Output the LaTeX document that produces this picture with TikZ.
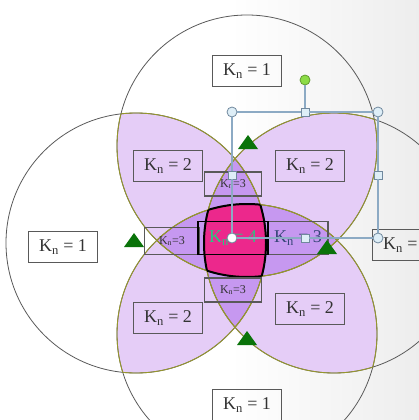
\documentclass[tikz,border=0pt]{standalone}
\usepackage{fontspec}
\setmainfont{Liberation Serif}
\usetikzlibrary{calc}
\definecolor{petal}{RGB}{229,205,247}
\definecolor{petaldark}{RGB}{198,152,240}
\definecolor{core}{RGB}{236,40,140}
\definecolor{rim}{RGB}{150,150,45}
\definecolor{selline}{RGB}{140,170,196}
\definecolor{selfill}{RGB}{222,238,247}
\definecolor{trigreen}{RGB}{10,115,10}
\definecolor{rotgreen}{RGB}{140,220,70}
\definecolor{kfour}{RGB}{40,200,130}
\definecolor{kthree}{RGB}{55,70,120}
\newcommand{\ringT}{(247,146) ellipse [x radius=130, y radius=131]}
\newcommand{\ringB}{(247,334) ellipse [x radius=130, y radius=130]}
\newcommand{\ringL}{(136,243) circle [radius=130]}
\newcommand{\ringR}{(334,243) circle [radius=130]}
\tikzset{
  lbl/.style = {draw=black!65, line width=1.3pt, text=black!80,
    font=\fontsize{18}{20}\selectfont, minimum width=69pt, minimum height=31pt, inner sep=1pt},
  lblsmall/.style = {lbl, line width=1.1pt, font=\fontsize{12}{14}\selectfont,
    minimum width=57pt, minimum height=24pt},
  hcirc/.style = {circle, draw=selline!80!black, fill=selfill, line width=0.8pt,
    minimum size=10pt, inner sep=0pt},
  hsq/.style = {rectangle, draw=selline!80!black, fill=selfill, line width=0.8pt,
    minimum size=8pt, inner sep=0pt},
  sel/.style = {selline, line width=1.2pt}
}

\begin{document}
\begin{tikzpicture}[x=1pt, y=-1pt]
\useasboundingbox (0,0) rectangle (419,420);
\clip (0,0) rectangle (419,420);
\shade [left color=white, right color=black!7] (230,0) rectangle (419,420);

% two circles
\begin{scope} \clip \ringT; \fill [petal] \ringL; \fill [petal] \ringR; \end{scope}
\begin{scope} \clip \ringB; \fill [petal] \ringL; \fill [petal] \ringR; \end{scope}
% three circles
\begin{scope} \clip \ringT; \fill [petaldark] \ringB; \end{scope}
\begin{scope} \clip \ringL; \fill [petaldark] \ringR; \end{scope}
% all four
\begin{scope} \clip \ringT; \clip \ringB; \clip \ringL; \fill [core] \ringR; \end{scope}

\draw [black!65, line width=0.8pt] \ringT \ringB \ringL \ringR;
\begin{scope} \clip \ringT; \draw [rim, line width=0.9pt] \ringB \ringL \ringR; \end{scope}
\begin{scope} \clip \ringB; \draw [rim, line width=0.9pt] \ringT \ringL \ringR; \end{scope}
\begin{scope} \clip \ringL; \draw [rim, line width=0.9pt] \ringT \ringB \ringR; \end{scope}
\begin{scope} \clip \ringR; \draw [rim, line width=0.9pt] \ringT \ringB \ringL; \end{scope}
% rim of the core
\begin{scope} \clip \ringB; \clip \ringL; \clip \ringR; \draw [line width=2pt] \ringT; \end{scope}
\begin{scope} \clip \ringT; \clip \ringL; \clip \ringR; \draw [line width=2pt] \ringB; \end{scope}
\begin{scope} \clip \ringT; \clip \ringB; \clip \ringR; \draw [line width=2pt] \ringL; \end{scope}
\begin{scope} \clip \ringT; \clip \ringB; \clip \ringL; \draw [line width=2pt] \ringR; \end{scope}

\node [lbl] (k1t) at (247,71) {K\textsubscript{n} = 1};
\node [lbl] (k1l) at (63,247) {K\textsubscript{n} = 1};
\node [lbl] (k1b) at (247,405) {K\textsubscript{n} = 1};
\node [lbl] (k1r) at (407,245) {K\textsubscript{n} = 1};
\node [lbl] (k2a) at (168,166) {K\textsubscript{n} = 2};
\node [lbl] (k2b) at (310,166) {K\textsubscript{n} = 2};
\node [lbl] (k2c) at (168,318) {K\textsubscript{n} = 2};
\node [lbl] (k2d) at (310,309) {K\textsubscript{n} = 2};
\node [lblsmall] (k3t) at (233,184) {K\textsubscript{n}=3};
\node [lblsmall] (k3b) at (233,290) {K\textsubscript{n}=3};
\node [lblsmall, minimum width=55pt, minimum height=27pt] (k3l) at (172,241) {K\textsubscript{n}=3};
\node [lbl, minimum width=60pt, minimum height=33pt, text=kthree] (k3r) at (298,238) {K\textsubscript{n} = 3};
\node [lbl, draw=black, line width=1.6pt, minimum width=70pt, minimum height=33pt, text=kfour] (k4) at (233,238) {K\textsubscript{n} = 4};

\foreach \x/\y in {248/135, 134/233, 327/240, 247/331}
  \fill [trigreen] (\x-10,\y+14) -- (\x+10,\y+14) -- (\x,\y) -- cycle;

% selection handles
\node [hcirc] (s1) at (232,112) {};
\node [hsq] (s2) at (305,112) {};
\node [hcirc] (s3) at (378,112) {};
\node [hsq] (s4) at (232,175) {};
\node [hsq] (s5) at (378,175) {};
\node [hcirc, fill=white] (s6) at (232,238) {};
\node [hsq] (s7) at (305,238) {};
\node [hcirc] (s8) at (378,238) {};
\node [hcirc, fill=rotgreen, draw=rotgreen!70!black] (rot) at (305,80) {};
\draw [sel] (s1) -- (s2) -- (s3) -- (s5) -- (s8) -- (s7) -- (s6) -- (s4) -- (s1);
\draw [sel] (s2) -- (rot);
\end{tikzpicture}
\end{document}
